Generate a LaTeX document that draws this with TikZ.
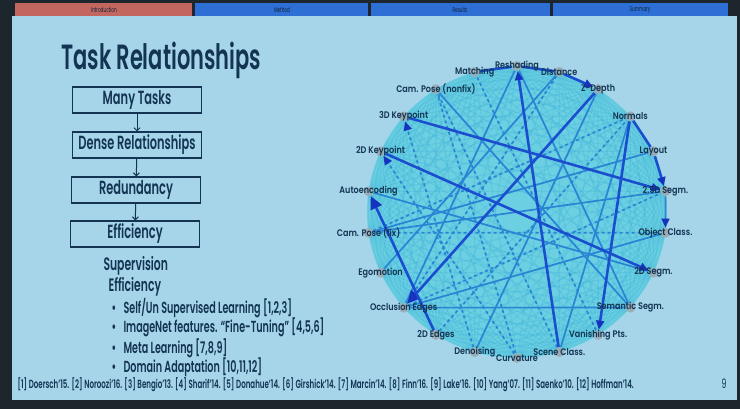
\documentclass[tikz,border=0pt]{standalone}
\usepackage{fontspec}
\setmainfont[FakeStretch=0.6, BoldFont={Poppins SemiBold}, BoldFeatures={FakeStretch=0.6}]{Poppins}
\newfontfamily\lblfont[FakeStretch=0.85, BoldFont={Poppins SemiBold}, BoldFeatures={FakeStretch=0.85}]{Poppins}
\usetikzlibrary{arrows.meta}
\pgfdeclarelayer{back}
\pgfdeclarelayer{edges}
\pgfsetlayers{back,edges,main}
\definecolor{slidebg}{HTML}{A6D5EA}
\definecolor{framec}{HTML}{1C262C}
\definecolor{navy}{HTML}{133452}
\definecolor{tabred}{HTML}{C2665F}
\definecolor{tabblue}{HTML}{2E6FD6}
\definecolor{cyanfill}{HTML}{6CD0E2}
\definecolor{meshc}{HTML}{2FA8D6}
\definecolor{midc}{HTML}{2A84D4}
\definecolor{darkc}{HTML}{1A4ECF}
\definecolor{tipc}{HTML}{1633C0}
\definecolor{dotgray}{HTML}{9AA6AE}
\begin{document}
\begin{tikzpicture}[x=1pt,y=-1pt,
  taskbox/.style={draw=navy, line width=1.1pt, minimum width=129pt, minimum height=26pt, inner sep=0pt, font=\bfseries\fontsize{19}{19}\selectfont, text=navy},
  flowarrow/.style={navy, line width=1pt, -{Straight Barb[length=3pt,width=6pt]}},
  dot/.style={circle, fill=dotgray, fill opacity=0.85, minimum size=10pt, inner sep=0pt},
  lbl/.style={font=\lblfont\bfseries\fontsize{9.5}{9.5}\selectfont, text=navy, inner sep=0pt},
  meshedge/.style={draw=meshc, line width=1.3pt, opacity=0.2},
  midedge/.style={draw=midc, line width=1.7pt},
  darkedge/.style={draw=darkc, line width=2.6pt},
  tip/.style={-{Triangle[length=9pt,width=8pt,color=tipc]}},
  bigtip/.style={-{Triangle[length=13pt,width=12pt,color=tipc]}},
  tabtxt/.style={font=\fontsize{7}{7}\selectfont, text=navy!70!black},
  plain/.style={anchor=base west, text=navy},
]
\useasboundingbox (0,0) rectangle (740,409);
\begin{pgfonlayer}{back}
\fill[framec] (0,0) rectangle (740,409);
\fill[slidebg] (12,16) rectangle (737,400);
\fill[tabred] (15,3) rectangle (192,16);
\fill[tabblue] (195,3) rectangle (368,16);
\fill[tabblue] (371,3) rectangle (550,16);
\fill[tabblue] (553,3) rectangle (728,16);
\fill[cyanfill] (517,212) ellipse [x radius=150, y radius=146];
\end{pgfonlayer}
\node[tabtxt] (t1) at (104,10) {Introduction};
\node[tabtxt] (t2) at (282,10) {Method};
\node[tabtxt] (t3) at (460,10) {Results};
\node[tabtxt] (t4) at (640,10) {Summary};

\node[plain, font=\bfseries\fontsize{35}{35}\selectfont] (title) at (58,70) {Task Relationships};
\node[taskbox] (b1) at (137,100) {Many Tasks};
\node[taskbox] (b2) at (137,145) {Dense Relationships};
\node[taskbox] (b3) at (136,190) {Redundancy};
\node[taskbox] (b4) at (135,234) {Efficiency};
\draw[flowarrow] (b1) -- (b2);
\draw[flowarrow] (b2) -- (b3);
\draw[flowarrow] (b3) -- (b4);

\node[plain, font=\bfseries\fontsize{18}{18}\selectfont] (sup) at (100,271) {Supervision};
\node[plain, font=\bfseries\fontsize{18}{18}\selectfont] (eff) at (105,291) {Efficiency};
\foreach \t/\yy [count=\q] in {{Self/Un Supervised Learning [1,2,3]}/313,{ImageNet features. “Fine-Tuning” [4,5,6]}/333,{Meta Learning [7,8,9]}/353,{Domain Adaptation [10,11,12]}/372}{
  \node[plain, font=\bfseries\fontsize{16}{16}\selectfont] (bd\q) at (108,\yy) {•};
  \node[plain, font=\bfseries\fontsize{16}{16}\selectfont] (bt\q) at (120,\yy) {\t};
}
\node[plain, font=\bfseries\fontsize{11.8}{11.8}\selectfont] (refs) at (14,388) {[1] Doersch'15. [2] Noroozi'16. [3] Bengio'13. [4] Sharif'14. [5] Donahue'14. [6] Girshick'14. [7] Marcin'14. [8] Finn'16. [9] Lake'16. [10] Yang'07. [11] Saenko'10. [12] Hoffman'14.};
\node[plain, font=\fontsize{13}{13}\selectfont] (pg) at (718,388) {9};

\foreach \txt [count=\k from 0] in {2.5D Segm., Object Class., 2D Segm., Semantic Segm., Vanishing Pts., Scene Class., Curvature, Denoising, 2D Edges, Occlusion Edges, Egomotion, Cam. Pose (fix), Autoencoding, 2D Keypoint, 3D Keypoint, Cam. Pose (nonfix), Matching, Reshading, Distance, Z-Depth, Normals, Layout}{
  \pgfmathsetmacro\ang{8.2-16.3636*\k}
  \node[dot] (n\k) at ({517+150*cos(\ang)},{212-146*sin(\ang)}) {};
  \node[lbl] (l\k) at (n\k) {\txt};
}

\begin{pgfonlayer}{edges}
\foreach \i in {0,...,20}{
  \pgfmathtruncatemacro\s{\i+1}
  \foreach \j in {\s,...,21}{
    \pgfmathtruncatemacro\dd{\j-\i}
    \ifnum\dd=11\relax\else\draw[meshedge] (n\i) -- (n\j);\fi
  }
}
% medium edges
\draw[midedge] (n12) -- (n2);
\draw[midedge, dashed] (n18) -- (n9);
\draw[midedge] (n17) -- (n9);
\draw[midedge] (n7) -- (n19);
\draw[midedge] (n11) -- (n0);
\draw[midedge, dashed] (n11) -- (n20);
\draw[midedge] (n9) -- (n3);
\draw[midedge, dashed] (n5) -- (n15);
\draw[midedge, dashed] (n11) -- (n1);
\draw[midedge, dashed] (n8) -- (n20);
\draw[midedge] (n5) -- (n20);
\draw[midedge] (n9) -- (n1);
\draw[midedge, dashed] (n9) -- (n0);
\draw[midedge] (n10) -- (n18);
\draw[midedge] (n15) -- (n3);
\draw[midedge] (n11) -- (n21);
\draw[midedge, dashed] (n4) -- (n16);
\draw[midedge] (n3) -- (n17);
\draw[midedge, dashed] (n6) -- (n15);
\draw[midedge, tip] (n0) -- (n1);
\draw[midedge, dashed, tip] (n7) -- (n14);
\draw[midedge, dashed, tip] (n6) -- (n13);
% dark edges
\draw[darkedge, tip] (n14) -- (n0);
\draw[darkedge, tip] (n20) -- (n4);
\draw[darkedge, tip] (n13) -- (n2);
\draw[darkedge] (n20) -- (n21);
\draw[darkedge, tip] (n21) -- (n0);
\draw[darkedge] (n16) -- (n17);
\draw[darkedge] (n17) -- (n18);
\draw[darkedge, tip] (n18) -- (n19);
\draw[darkedge, bigtip] (n19) -- (n9);
\draw[darkedge, bigtip] (n8) -- (n12);
\draw[darkedge, tip] (n5) -- (n17);
\end{pgfonlayer}
\end{tikzpicture}
\end{document}
